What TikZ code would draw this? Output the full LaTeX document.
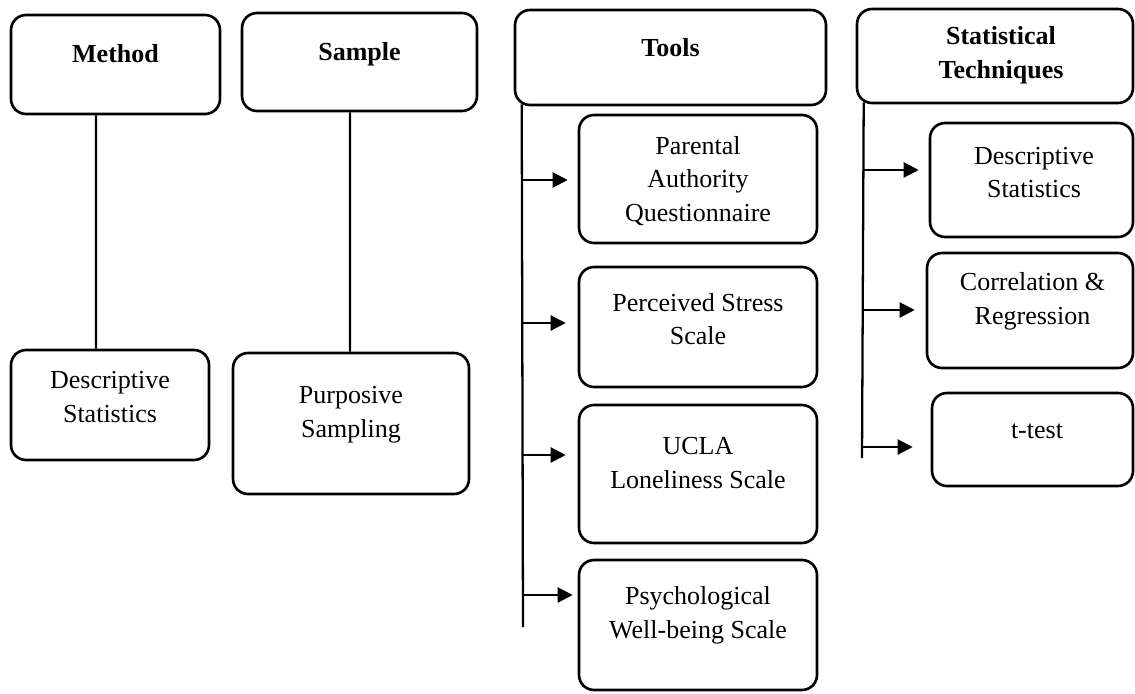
\documentclass[tikz,border=0pt]{standalone}
\usepackage{fontspec}
\setmainfont{Liberation Serif}
\usetikzlibrary{arrows.meta}

\tikzset{
  box/.style={draw, rounded corners=0.3cm, line width=1.5pt, inner sep=0pt},
  lbl/.style={align=center, inner sep=0pt, font=\fontsize{14.8}{19.2}\selectfont},
  link/.style={line width=1.3pt},
  arr/.style={line width=1.3pt, -{Triangle[length=0.3cm,width=0.3cm]}},
}

\begin{document}
\begin{tikzpicture}[x=0.02cm, y=-0.02cm]
  \useasboundingbox (0,0) rectangle (1135,693);

  % method
  \node[box, minimum width=4.18cm, minimum height=1.98cm] at (115.5,64.5) (method) {};
  \node[lbl] at (115.5,54) (method-t) {\textbf{Method}};
  \node[box, minimum width=3.96cm, minimum height=2.2cm] at (110,405) (mdesc) {};
  \node[lbl] at (110,397) (mdesc-t) {Descriptive\\Statistics};

  \draw[link] ([xshift=-0.39cm]method.south) -- ([xshift=-0.28cm]mdesc.north);

  % sample
  \node[box, minimum width=4.70cm, minimum height=1.96cm] at (359.5,62) (sample) {};
  \node[lbl] at (359.5,54) (sample-t) {\textbf{Sample}};
  \node[box, minimum width=4.72cm, minimum height=2.82cm] at (351,423.5) (psamp) {};
  \node[lbl] at (351,414.5) (psamp-t) {Purposive\\Sampling};

  \draw[link] ([xshift=-0.19cm]sample.south) -- ([xshift=-0.02cm]psamp.north);

  % tools
  \node[box, minimum width=6.22cm, minimum height=1.90cm] at (670.5,57.5) (tools) {};
  \node[lbl] at (670.5,47.5) (tools-t) {\textbf{Tools}};

  \node[box, minimum width=4.76cm, minimum height=2.56cm] at (698,179) (paq) {};
  \node[lbl] at (698,181) (paq-t) {Parental\\Authority\\Questionnaire};
  \node[box, minimum width=4.76cm, minimum height=2.40cm] at (698,327) (pss) {};
  \node[lbl] at (698,319) (pss-t) {Perceived Stress\\Scale};
  \node[box, minimum width=4.76cm, minimum height=2.76cm] at (698,474) (ucla) {};
  \node[lbl] at (698,463) (ucla-t) {UCLA\\Loneliness Scale};
  \node[box, minimum width=4.76cm, minimum height=2.60cm] at (698,625) (pws) {};
  \node[lbl] at (698,615) (pws-t) {Psychological\\Well-being Scale};

  \coordinate (tend) at (523,627);
  \coordinate (t1) at (523,180);
  \coordinate (t2) at (523,323);
  \coordinate (t3) at (523,455);
  \coordinate (t4) at (523,595);

  \draw[link] ([xshift=0.16cm,yshift=0.04cm]tools.south west) -- (tend);
  \draw[arr, shorten >=0.2cm] (t1) -- (t1 -| paq.west);
  \draw[arr, shorten >=0.24cm] (t2) -- (t2 -| pss.west);
  \draw[arr, shorten >=0.24cm] (t3) -- (t3 -| ucla.west);
  \draw[arr, shorten >=0.1cm] (t4) -- (t4 -| pws.west);

  % statistical techniques
  \node[box, minimum width=5.52cm, minimum height=1.88cm] at (995,56) (stat) {};
  \node[lbl] at (1001,55) (stat-t) {\textbf{Statistical}\\\textbf{Techniques}};

  \node[box, minimum width=4.06cm, minimum height=2.28cm] at (1031.5,180) (sdesc) {};
  \node[lbl] at (1034,172.5) (sdesc-t) {Descriptive\\Statistics};
  \node[box, minimum width=4.12cm, minimum height=2.30cm] at (1030,310.5) (scorr) {};
  \node[lbl] at (1032.5,301.5) (scorr-t) {Correlation \&\\Regression};
  \node[box, minimum width=4.02cm, minimum height=1.86cm] at (1032.5,439.5) (ttest) {};
  \node[lbl] at (1037,431) (ttest-t) {t-test};

  \coordinate (send) at (862,458);
  \coordinate (s1) at (864,170);
  \coordinate (s2) at (863,310);
  \coordinate (s3) at (863,447);

  \draw[link] ([xshift=0.16cm,yshift=0.04cm]stat.south west) -- (send);
  \draw[arr, shorten >=0.2cm] (s1) -- (s1 -| sdesc.west);
  \draw[arr, shorten >=0.22cm] (s2) -- (s2 -| scorr.west);
  \draw[arr, shorten >=0.36cm] (s3) -- (s3 -| ttest.west);
\end{tikzpicture}
\end{document}
